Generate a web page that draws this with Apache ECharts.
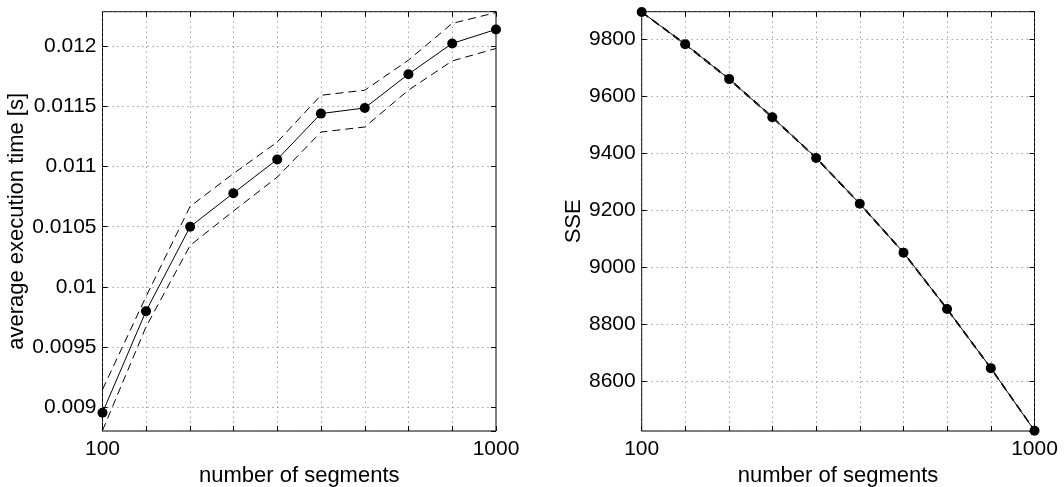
<!DOCTYPE html>
<html>
<head>
<meta charset="utf-8">
<script src="https://cdn.jsdelivr.net/npm/echarts@6/dist/echarts.min.js"></script>
<style>
  html, body { margin: 0; padding: 0; background: #fff; }
  #chart { width: 1064px; height: 487px; }
</style>
</head>
<body>
<div id="chart"></div>
<script>
// Number of segments (log-spaced from 100 to 1000)
const segments = [100, 129, 167, 215, 278, 359, 464, 599, 774, 1000];
const xLabelValues = [100, 1000];

// Average execution time [s] with upper / lower bounds
const timeMean  = [0.008958, 0.009800, 0.010500, 0.010778, 0.011058, 0.011438, 0.011485, 0.011765, 0.012020, 0.012136];
const timeUpper = [0.009150, 0.009920, 0.010669, 0.010940, 0.011202, 0.011590, 0.011632, 0.011881, 0.012186, 0.012276];
const timeLower = [0.008810, 0.009670, 0.010345, 0.010629, 0.010911, 0.011285, 0.011327, 0.011632, 0.011875, 0.011978];

// Sum of squared errors with upper / lower bounds
const sseMean  = [9897, 9784, 9661, 9527, 9384, 9223, 9051, 8853, 8645, 8425];
const sseUpper = [9898, 9787, 9664, 9530, 9387, 9226, 9054, 8856, 8648, 8428];
const sseLower = [9895, 9781, 9658, 9524, 9381, 9220, 9048, 8850, 8642, 8424];

const FONT = '"Liberation Sans", Arial, Helvetica, sans-serif';
const dottedGrid = { show: true, lineStyle: { color: '#777', type: [1, 4], width: 1 } };
const inwardTick = { show: true, inside: true, length: 5, lineStyle: { color: '#000', width: 1 } };

const pairs = (vals) => segments.map((s, i) => [s, vals[i]]);

function xAxes(gi) {
  const base = {
    type: 'log', logBase: 10, min: 100, max: 1000, interval: 1 / 9, gridIndex: gi,
    axisLine: { show: false }, axisTick: inwardTick, splitLine: dottedGrid
  };
  return [
    Object.assign({}, base, {
      position: 'bottom',
      name: 'number of segments', nameLocation: 'middle', nameGap: 32,
      nameTextStyle: { fontFamily: FONT, fontSize: 22, color: '#000' },
      axisLabel: {
        show: true, interval: 0, margin: 8, fontFamily: FONT, fontSize: 21, color: '#000',
        formatter: (v) => xLabelValues.some((t) => Math.abs(t - v) < 1e-6) ? String(Math.round(v)) : ''
      }
    }),
    Object.assign({}, base, { position: 'top', axisLabel: { show: false }, splitLine: { show: false } })
  ];
}

function yAxes(gi, name, nameGap, min, max, fmt) {
  const base = {
    type: 'value', gridIndex: gi, min: min, max: max, splitNumber: 7,
    axisLine: { show: false }, axisTick: inwardTick, splitLine: dottedGrid
  };
  return [
    Object.assign({}, base, {
      position: 'left',
      name: name, nameLocation: 'middle', nameGap: nameGap, nameRotate: 90,
      nameTextStyle: { fontFamily: FONT, fontSize: 22, color: '#000' },
      axisLabel: {
        show: true, margin: 6, fontFamily: FONT, fontSize: 21, color: '#000',
        showMinLabel: false, showMaxLabel: false, formatter: fmt
      }
    }),
    Object.assign({}, base, { position: 'right', axisLabel: { show: false }, splitLine: { show: false } })
  ];
}

function meanSeries(xi, yi, vals) {
  return {
    type: 'line', xAxisIndex: xi, yAxisIndex: yi, data: pairs(vals), clip: false,
    symbol: 'circle', symbolSize: 10, z: 5,
    itemStyle: { color: '#000' }, lineStyle: { color: '#000', width: 1 }
  };
}
function boundSeries(xi, yi, vals) {
  return {
    type: 'line', xAxisIndex: xi, yAxisIndex: yi, data: pairs(vals), clip: false,
    symbol: 'none', z: 4,
    lineStyle: { color: '#000', width: 1, type: [8, 5] }
  };
}

const gridBase = {
  top: 11.7, bottom: 56, show: true, borderColor: '#000', borderWidth: 1,
  backgroundColor: 'transparent', containLabel: false, outerBoundsMode: 'none'
};

const chart = echarts.init(document.getElementById('chart'), null, { renderer: 'canvas' });
chart.setOption({
  backgroundColor: '#fff',
  animation: false,
  grid: [
    Object.assign({ left: 102.5, right: 568 }, gridBase),
    Object.assign({ left: 641.7, right: 29.5 }, gridBase)
  ],
  xAxis: [].concat(xAxes(0), xAxes(1)),
  yAxis: [].concat(
    yAxes(0, 'average execution time [s]', 70, 0.008806, 0.012283, (v) => String(parseFloat(v.toFixed(5)))),
    yAxes(1, 'SSE', 54, 8424, 9898, (v) => String(Math.round(v)))
  ),
  series: [
    boundSeries(0, 0, timeUpper),
    boundSeries(0, 0, timeLower),
    meanSeries(0, 0, timeMean),
    boundSeries(2, 2, sseUpper),
    boundSeries(2, 2, sseLower),
    meanSeries(2, 2, sseMean)
  ]
});
</script>
</body>
</html>
